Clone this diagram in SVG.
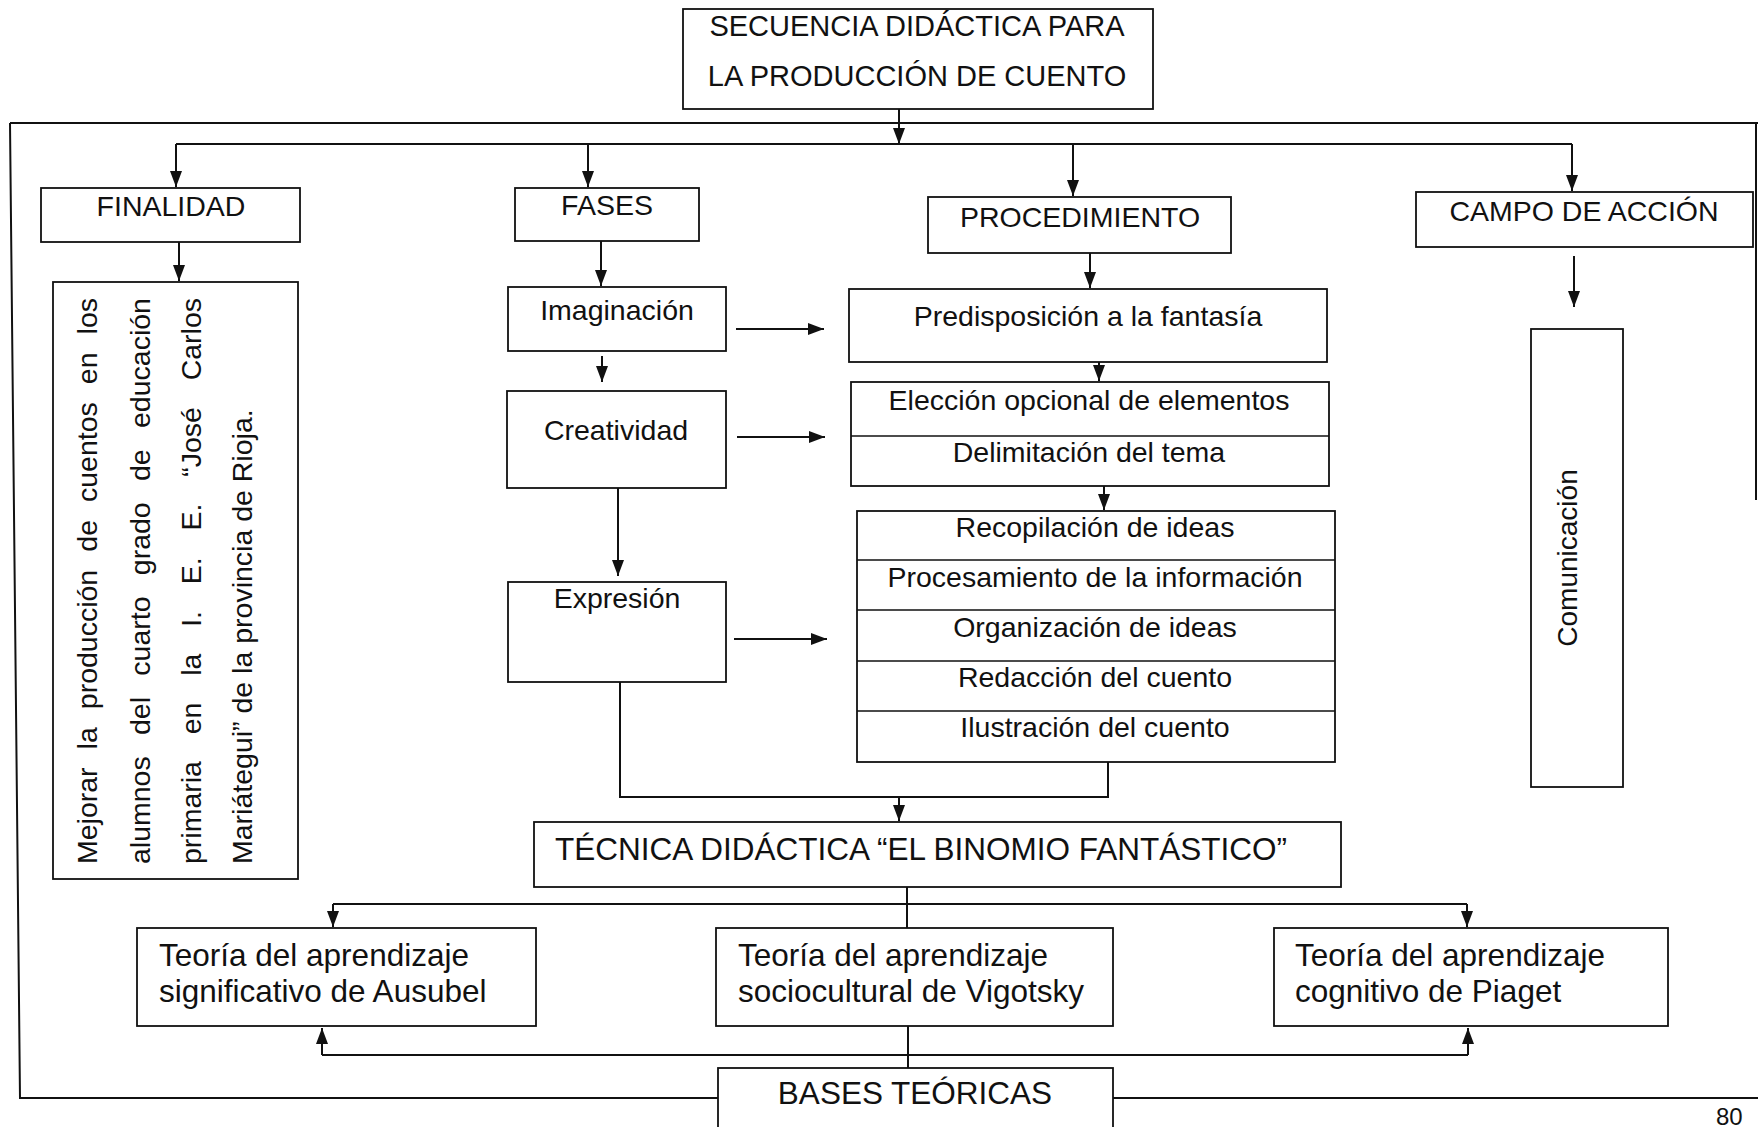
<svg xmlns="http://www.w3.org/2000/svg" width="1758" height="1127" viewBox="0 0 1758 1127">
<defs>
<style>
.box{fill:#fff;stroke:#111;stroke-width:1.8}
.ln{fill:none;stroke:#111;stroke-width:2}
.arr{fill:none;stroke:#111;stroke-width:2;marker-end:url(#ah)}
text{font-family:"Liberation Sans",Arial,sans-serif;fill:#111}
.t{font-size:28.5px}
.c{text-anchor:middle}
.big{font-size:31.5px}
.v{font-size:28.5px}
</style>
<marker id="ah" viewBox="0 0 16 12" refX="16" refY="6" markerWidth="16" markerHeight="12" markerUnits="userSpaceOnUse" orient="auto"><path d="M0,0 L16,6 L0,12 z" fill="#111"/></marker>
</defs>
<rect width="1758" height="1127" fill="#fff"/>

<g id="frame">
<path class="ln" d="M10,123 H1758 M1756,123 V500 M10,123 L20,1098 H718 M1113,1098 H1758"/>
</g>

<g id="connectors">
<path class="arr" d="M899,109 V144"/>
<path class="ln" d="M176,144 H1572"/>
<path class="arr" d="M176,144 V187"/>
<path class="arr" d="M588,144 V187"/>
<path class="arr" d="M1073,144 V196"/>
<path class="arr" d="M1572,144 V191"/>
<path class="arr" d="M179,240 V281"/>
<path class="arr" d="M601,241 V286"/>
<path class="arr" d="M602,356 V382"/>
<path class="arr" d="M618,488 V576"/>
<path class="arr" d="M736,329 H824"/>
<path class="arr" d="M737,437 H825"/>
<path class="arr" d="M734,639 H827"/>
<path class="arr" d="M1090,253 V288"/>
<path class="arr" d="M1099,362 V381"/>
<path class="arr" d="M1104,486 V510"/>
<path class="arr" d="M1574,256 V307"/>
<path class="ln" d="M620,682 V797 H1108 V762"/>
<path class="arr" d="M899,797 V821"/>
<path class="ln" d="M907,887 V928"/>
<path class="ln" d="M333,904 H1467"/>
<path class="arr" d="M333,904 V927"/>
<path class="arr" d="M1467,904 V927"/>
<path class="ln" d="M908,1026 V1068"/>
<path class="ln" d="M322,1055 H1468"/>
<path class="arr" d="M322,1055 V1028"/>
<path class="arr" d="M1468,1055 V1028"/>
</g>

<g id="title">
<rect class="box" x="683" y="9" width="470" height="100"/>
<text class="t c" x="917" y="36" style="font-size:29px">SECUENCIA DIDÁCTICA PARA</text>
<text class="t c" x="917" y="86" style="font-size:29px">LA PRODUCCIÓN DE CUENTO</text>
</g>

<g id="finalidad">
<rect class="box" x="41" y="188" width="259" height="54"/>
<text class="t c" x="171" y="216">FINALIDAD</text>
</g>

<g id="fases">
<rect class="box" x="515" y="188" width="184" height="53"/>
<text class="t c" x="607" y="215">FASES</text>
</g>

<g id="procedimiento">
<rect class="box" x="928" y="197" width="303" height="56"/>
<text class="t c" x="1080" y="227">PROCEDIMIENTO</text>
</g>

<g id="campo">
<rect class="box" x="1416" y="192" width="337" height="55"/>
<text class="t c" x="1584" y="221">CAMPO DE ACCIÓN</text>
</g>

<g id="mejorar">
<rect class="box" x="53" y="282" width="245" height="597"/>
<text class="v" transform="translate(97,864) rotate(-90)"><tspan x="0">Mejorar</tspan><tspan x="114.6">la</tspan><tspan x="154.8">producción</tspan><tspan x="312.3">de</tspan><tspan x="362">cuentos</tspan><tspan x="479.8">en</tspan><tspan x="529.6">los</tspan></text>
<text class="v" transform="translate(149.5,864) rotate(-90)"><tspan x="0">alumnos</tspan><tspan x="129">del</tspan><tspan x="188.3">cuarto</tspan><tspan x="288.8">grado</tspan><tspan x="383">de</tspan><tspan x="436">educación</tspan></text>
<text class="v" transform="translate(200.5,864) rotate(-90)"><tspan x="0">primaria</tspan><tspan x="129.7">en</tspan><tspan x="188.2">la</tspan><tspan x="237.2">I.</tspan><tspan x="279.8">E.</tspan><tspan x="333.5">E.</tspan><tspan x="387.2">“José</tspan><tspan x="483.7">Carlos</tspan></text>
<text class="v" transform="translate(252,864) rotate(-90)">Mariátegui” de la provincia de Rioja.</text>
</g>

<g id="imaginacion">
<rect class="box" x="508" y="287" width="218" height="64"/>
<text class="t c" x="617" y="320">Imaginación</text>
</g>

<g id="creatividad">
<rect class="box" x="507" y="391" width="219" height="97"/>
<text class="t c" x="616" y="440">Creatividad</text>
</g>

<g id="expresion">
<rect class="box" x="508" y="582" width="218" height="100"/>
<text class="t c" x="617" y="608">Expresión</text>
</g>

<g id="predisposicion">
<rect class="box" x="849" y="289" width="478" height="73"/>
<text class="t c" x="1088" y="326">Predisposición a la fantasía</text>
</g>

<g id="eleccion">
<rect class="box" x="851" y="382" width="478" height="104"/>
<path class="ln" d="M851,436 H1329" style="stroke-width:1.6"/>
<text class="t c" x="1089" y="410">Elección opcional de elementos</text>
<text class="t c" x="1089" y="462">Delimitación del tema</text>
</g>

<g id="redaccion-pasos">
<rect class="box" x="857" y="511" width="478" height="251"/>
<path class="ln" d="M857,560 H1335 M857,610 H1335 M857,661 H1335 M857,711 H1335" style="stroke-width:1.6"/>
<text class="t c" x="1095" y="537">Recopilación de ideas</text>
<text class="t c" x="1095" y="587">Procesamiento de la información</text>
<text class="t c" x="1095" y="637">Organización de ideas</text>
<text class="t c" x="1095" y="687">Redacción del cuento</text>
<text class="t c" x="1095" y="737">Ilustración del cuento</text>
</g>

<g id="comunicacion">
<rect class="box" x="1531" y="329" width="92" height="458"/>
<text class="c" style="font-size:28px" transform="translate(1577,558) rotate(-90)" x="0" y="0">Comunicación</text>
</g>

<g id="tecnica">
<rect class="box" x="534" y="822" width="807" height="65"/>
<text class="big c" x="921" y="860">TÉCNICA DIDÁCTICA “EL BINOMIO FANTÁSTICO”</text>
</g>

<g id="ausubel">
<rect class="box" x="137" y="928" width="399" height="98"/>
<text class="big" x="159" y="966">Teoría del aprendizaje</text>
<text class="big" x="159" y="1002">significativo de Ausubel</text>
</g>

<g id="vigotsky">
<rect class="box" x="716" y="928" width="397" height="98"/>
<text class="big" x="738" y="966">Teoría del aprendizaje</text>
<text class="big" x="738" y="1002">sociocultural de Vigotsky</text>
</g>

<g id="piaget">
<rect class="box" x="1274" y="928" width="394" height="98"/>
<text class="big" x="1295" y="966">Teoría del aprendizaje</text>
<text class="big" x="1295" y="1002">cognitivo de Piaget</text>
</g>

<g id="bases">
<rect class="box" x="718" y="1068" width="395" height="80"/>
<text class="big c" x="915" y="1104">BASES TEÓRICAS</text>
</g>

<g id="pagina">
<text x="1716" y="1125" style="font-size:24px">80</text>
</g>
</svg>
